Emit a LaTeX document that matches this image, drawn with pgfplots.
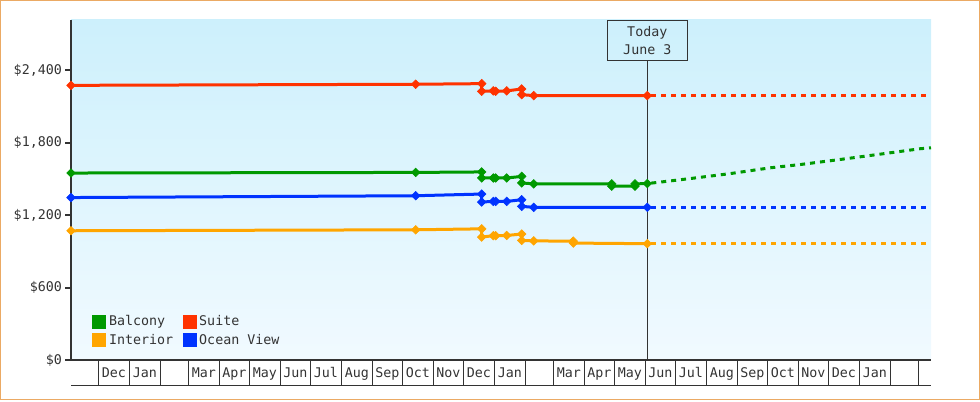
\documentclass[border=0pt]{standalone}
\usepackage{pgfplots}
\pgfplotsset{compat=1.18}
\usepackage{fontspec}
\setmainfont{DejaVu Sans Mono}
\definecolor{cgreen}{RGB}{0,153,0}
\definecolor{cred}{RGB}{255,51,0}
\definecolor{corange}{RGB}{255,165,0}
\definecolor{cblue}{RGB}{0,51,255}
\definecolor{frame}{RGB}{235,170,100}
\definecolor{axgray}{RGB}{51,51,51}
\definecolor{bgtop}{RGB}{205,240,252}
\definecolor{bgbot}{RGB}{241,250,255}
\begin{document}
\begin{tikzpicture}
\draw[line width=0.75pt, color=frame] (0.375pt,0.375pt) rectangle (734.625pt,299.625pt);
\begin{axis}[
  at={(53.25pt,30pt)}, anchor=south west,
  scale only axis, width=645pt, height=255pt,
  xmin=-27.3, xmax=832.7, ymin=0, ymax=2815,
  clip=false,
  axis lines*=left,
  axis line style={draw=axgray, line width=1.5pt},
  axis background/.style={top color=bgtop, bottom color=bgbot},
  tick align=outside,
  major tick length=4.5pt,
  every tick label/.append style={font=\fontsize{10}{12}\selectfont, text=axgray},
  /pgf/number format/assume math mode=true,
  /pgf/number format/1000 sep={,},
  ytick={0,600,1200,1800,2400},
  yticklabel={\$\pgfmathprintnumber{\tick}},
  ytick style={draw=axgray, line width=1.5pt},
  yticklabel style={xshift=1.2pt},
  xtick={15.5,46.5,105.5,136,166.5,197,227.5,258.5,289,319.5,350,380.5,411.5,470.5,501,531.5,562,592.5,623.5,654,684.5,715,745.5,776.5},
  xticklabels={Dec,Jan,Mar,Apr,May,Jun,Jul,Aug,Sep,Oct,Nov,Dec,Jan,Mar,Apr,May,Jun,Jul,Aug,Sep,Oct,Nov,Dec,Jan},
  xtick style={draw=none},
  xticklabel style={anchor=base, yshift=-8.8pt},
  extra x ticks={0,31,62,90,121,151,182,212,243,274,304,335,365,396,427,455,486,516,547,577,608,639,669,700,730,761,792,820},
  extra x tick labels={},
  extra x tick style={major tick length=18.75pt, xtick style={draw=axgray, line width=0.75pt}},
  legend columns=2,
  legend image code/.code={\fill[#1] (0pt,-4.125pt) rectangle (8.25pt,4.125pt);},
  legend style={draw=none, fill=none, at={(rel axis cs:0,0)}, anchor=south west,
    xshift=15.8pt, yshift=9pt, inner sep=0pt,
    nodes={inner xsep=2pt, inner ysep=1pt, font=\fontsize{10}{12}\selectfont, text=axgray},
    row sep=3pt,
    /tikz/every even column/.append style={column sep=5pt}},
  legend cell align=left,
  every axis plot/.append style={line width=2.25pt, mark=square*, mark size=2.3pt, mark options={solid, rotate=45, line width=0.4pt}},
]
\addplot[color=cgreen] coordinates {(-27.3,1548) (317.4,1553) (383.4,1557) (383.4,1507) (395,1507) (397.4,1507) (408.4,1507) (423.4,1520) (423.4,1466) (435.4,1458) (513.4,1458) (513.4,1439) (536.7,1439) (536.7,1458) (549,1461)};
\addlegendentry{Balcony}
\addplot[color=cred] coordinates {(-27.3,2274) (317.4,2283) (383.4,2288) (383.4,2225) (395,2228) (397.4,2225) (408.4,2228) (423.4,2244) (423.4,2197) (435.4,2189) (549,2189)};
\addlegendentry{Suite}
\addplot[color=corange] coordinates {(-27.3,1070) (317.4,1078) (383.4,1086) (383.4,1018) (395,1029) (397.4,1029) (408.4,1031) (423.4,1043) (423.4,990) (435.4,986) (475,984) (475,968) (549,963)};
\addlegendentry{Interior}
\addplot[color=cblue] coordinates {(-27.3,1345) (317.4,1360) (383.4,1374) (383.4,1308) (395,1313) (397.4,1313) (408.4,1313) (423.4,1327) (423.4,1272) (435.4,1264) (549,1264)};
\addlegendentry{Ocean View}
% projections
\addplot[forget plot, color=cred, no markers, dash pattern=on 3.75pt off 3.75pt, dash phase=-3pt] coordinates {(549,2189) (832.7,2189)};
\addplot[forget plot, color=cblue, no markers, dash pattern=on 3.75pt off 3.75pt, dash phase=-3pt] coordinates {(549,1264) (832.7,1264)};
\addplot[forget plot, color=corange, no markers, dash pattern=on 3.75pt off 3.75pt, dash phase=-3pt] coordinates {(549,963) (832.7,963)};
\addplot[forget plot, color=cgreen, no markers, dash pattern=on 3.75pt off 3.75pt, dash phase=-3pt] coordinates {(549,1461) (560,1471) (591.7,1502) (631.7,1543) (671.7,1591) (701.7,1618) (741.7,1660) (781.7,1704) (821.7,1749) (832.7,1757)};
% today marker
\node[draw=axgray, line width=0.75pt, minimum width=60pt, minimum height=30pt, inner sep=0pt, anchor=north, align=center, text=axgray, font=\fontsize{10}{13.3}\selectfont] (today) at (axis cs:549,2815) {Today\\June 3};
\draw[axgray, line width=0.75pt] (today.south) -- (axis cs:549,0);
\draw[axgray, line width=0.75pt] ([yshift=-18.75pt]rel axis cs:0,0) -- ([yshift=-18.75pt]rel axis cs:1,0);
\end{axis}
\end{tikzpicture}
\end{document}
